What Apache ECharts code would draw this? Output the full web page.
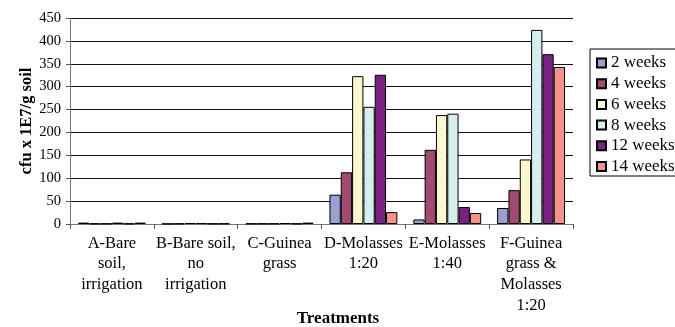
<!DOCTYPE html>
<html><head><meta charset="utf-8">
<script src="https://cdn.jsdelivr.net/npm/echarts@6/dist/echarts.min.js"></script>
<style>html,body{margin:0;padding:0;background:#fff}#c{width:675px;height:327px}</style>
</head><body><div id="c"></div>
<script>
const categories = ["A-Bare\nsoil,\nirrigation", "B-Bare soil,\nno\nirrigation", "C-Guinea\ngrass", "D-Molasses\n1:20", "E-Molasses\n1:40", "F-Guinea\ngrass &\nMolasses\n1:20"];
const seriesNames = ["2 weeks", "4 weeks", "6 weeks", "8 weeks", "12 weeks", "14 weeks"];
const week2 = [3, 0.5, 1, 64, 10, 35];
const week4 = [1, 1, 1, 113, 162, 74];
const week6 = [1, 2, 1, 323, 238, 141];
const week8 = [3, 2, 2, 256, 241, 424];
const week12 = [1, 1, 1, 326, 37, 371];
const week14 = [3, 1, 3, 26, 24, 343];
const yTicks = {min: 0, max: 450, interval: 50};
const colors = ["#9d9fd3", "#a14a72", "#fbf8d0", "#d7eeee", "#7a2182", "#f4928b"];
const allData = [week2, week4, week6, week8, week12, week14];
const font = "'Liberation Serif', 'Times New Roman', serif";
const chart = echarts.init(document.getElementById('c'));
chart.setOption({
  animation: false,
  color: colors,
  textStyle: {fontFamily: font, color: '#000'},
  grid: {left: 70, right: 102, top: 18, bottom: 103, containLabel: false, outerBoundsMode: 'none'},
  legend: {
    orient: 'vertical', left: 590, top: 49,
    padding: [5.5, 6, 1, 6],
    itemWidth: 9, itemHeight: 9, itemGap: 3.7,
    icon: 'rect',
    borderColor: '#000', borderWidth: 1,
    textStyle: {fontFamily: font, fontSize: 17, color: '#000', lineHeight: 17},
    data: seriesNames
  },
  xAxis: {
    type: 'category', data: categories,
    name: 'Treatments', nameLocation: 'middle', nameGap: 86, nameMoveOverlap: false,
    nameTextStyle: {fontFamily: font, fontSize: 17, fontWeight: 'bold', color: '#000', padding: [0, 0, 0, 33]},
    axisLine: {lineStyle: {color: '#777', width: 1}},
    axisTick: {show: true, interval: 0, length: 5, lineStyle: {color: '#555'}},
    axisLabel: {interval: 0, fontFamily: font, fontSize: 16.5, color: '#000', lineHeight: 20.7, margin: 9, align: 'center'}
  },
  yAxis: {
    type: 'value', min: yTicks.min, max: yTicks.max, interval: yTicks.interval,
    name: 'cfu x 1E7/g soil', nameLocation: 'middle', nameGap: 35, nameMoveOverlap: false,
    nameTextStyle: {fontFamily: font, fontSize: 16.5, fontWeight: 'bold', color: '#000'},
    axisLine: {show: true, lineStyle: {color: '#777', width: 1}},
    axisTick: {show: true, length: 4, lineStyle: {color: '#555'}},
    axisLabel: {fontFamily: font, fontSize: 14.5, color: '#000', margin: 9},
    splitLine: {lineStyle: {color: '#111', width: 1}}
  },
  series: seriesNames.map((n, i) => ({
    name: n, type: 'bar', data: allData[i],
    barGap: 0, barCategoryGap: '19%',
    itemStyle: {color: colors[i], borderColor: '#000', borderWidth: 1}
  }))
});
</script></body></html>
